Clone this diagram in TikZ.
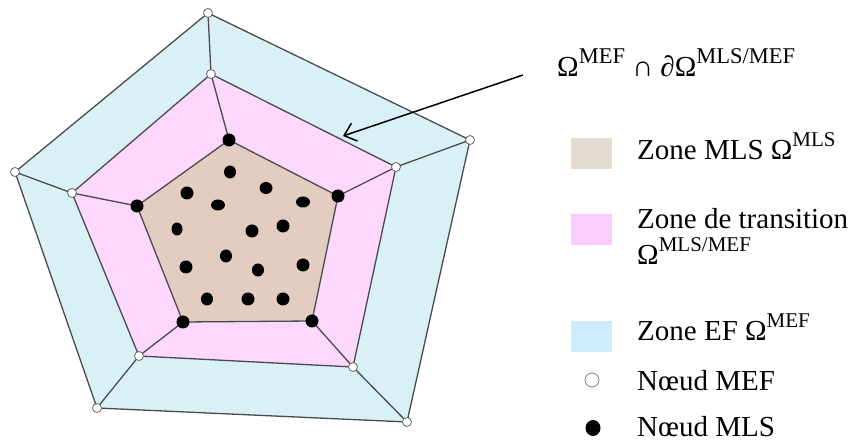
\documentclass[tikz,border=0pt]{standalone}
\usepackage{fontspec}
\setmainfont{Liberation Serif}
\usetikzlibrary{arrows.meta,shapes.geometric}
\definecolor{mlsfill}{RGB}{226,205,192}
\definecolor{transfill}{RGB}{253,215,253}
\definecolor{effill}{RGB}{218,240,247}
\definecolor{legmls}{RGB}{227,218,208}
\definecolor{legtrans}{RGB}{250,204,255}
\definecolor{legef}{RGB}{204,235,253}
\definecolor{edgegray}{RGB}{75,75,75}
\newcommand{\myexp}[1]{\raisebox{0.45em}{\fontsize{21}{21}\selectfont #1}}
\newcommand{\myexpb}[1]{\raisebox{0.45em}{\fontsize{22.5}{22}\selectfont #1}}
\begin{document}
\begin{tikzpicture}[x=1pt,y=-1pt,
  edge/.style={draw=edgegray,line width=1.3pt},
  wnode/.style={circle,draw=gray!80!black,fill=white,line width=0.8pt,minimum size=9pt,inner sep=0pt},
  bnode/.style={circle,fill=black,minimum size=13pt,inner sep=0pt},
  bdot/.style={ellipse,fill=black,inner sep=0pt},
  legbox/.style={rectangle,minimum width=41pt,minimum height=31pt,inner sep=0pt},
  legtxt/.style={anchor=base west,inner sep=0pt,font=\fontsize{29}{34}\selectfont},
  arrowline/.style={draw=black,line width=1.5pt,-{Straight Barb[length=11pt,width=19pt,line width=1.5pt]}}
]
\useasboundingbox[fill=white] (0,0) rectangle (855,443);
% vertices
\coordinate (O1) at (208,13);  \coordinate (O2) at (470,140); \coordinate (O3) at (407,422);
\coordinate (O4) at (97,408);  \coordinate (O5) at (15,172);
\coordinate (M1) at (211,74);  \coordinate (M2) at (396,167); \coordinate (M3) at (353,367);
\coordinate (M4) at (139,356); \coordinate (M5) at (72,193);
\coordinate (I1) at (229,140); \coordinate (I2) at (338,196); \coordinate (I3) at (312,321);
\coordinate (I4) at (183,322); \coordinate (I5) at (137,206);
% fills
\fill[effill] (O1) -- (O2) -- (O3) -- (O4) -- (O5) -- cycle;
\fill[transfill] (M1) -- (M2) -- (M3) -- (M4) -- (M5) -- cycle;
\fill[mlsfill] (I1) -- (I2) -- (I3) -- (I4) -- (I5) -- cycle;
% edges
\foreach \p in {O,M,I} {
  \draw[edge] (\p1) -- (\p2) -- (\p3) -- (\p4) -- (\p5) -- cycle;
}
\foreach \k in {1,...,5} {
  \draw[edge] (O\k) -- (M\k) -- (I\k);
}
% nodes on vertices
\foreach \k in {1,...,5} {
  \node[wnode] (nO\k) at (O\k) {};
  \node[wnode] (nM\k) at (M\k) {};
  \node[bnode] (nI\k) at (I\k) {};
}
% interior MLS nodes
\node[bdot,minimum width=12pt,minimum height=13pt] (d1) at (230,172) {};
\node[bdot,minimum width=13pt,minimum height=12pt] (d2) at (266,188) {};
\node[bdot,minimum width=13pt,minimum height=13pt] (d3) at (187,193) {};
\node[bdot,minimum width=14pt,minimum height=11pt] (d4) at (218,205) {};
\node[bdot,minimum width=14pt,minimum height=11pt] (d5) at (303,202) {};
\node[bdot,minimum width=11pt,minimum height=13pt] (d6) at (177,229) {};
\node[bdot,minimum width=13pt,minimum height=13pt] (d7) at (252,231) {};
\node[bdot,minimum width=13pt,minimum height=13pt] (d8) at (283,226) {};
\node[bdot,minimum width=12pt,minimum height=13pt] (d9) at (226,256) {};
\node[bdot,minimum width=13pt,minimum height=13pt] (d10) at (186,267) {};
\node[bdot,minimum width=12pt,minimum height=13pt] (d11) at (258,270) {};
\node[bdot,minimum width=13pt,minimum height=13pt] (d12) at (303,265) {};
\node[bdot,minimum width=12pt,minimum height=13pt] (d13) at (207,299) {};
\node[bdot,minimum width=13pt,minimum height=13pt] (d14) at (248,299) {};
\node[bdot,minimum width=13pt,minimum height=13pt] (d15) at (283,299) {};
% arrow and label
\coordinate (a0) at (523,75);
\coordinate (a1) at (343,136);
\draw[arrowline] (a0) -- (a1);
\node[legtxt] (form) at (557,77) {Ω\myexpb{MEF} ∩ ∂Ω\myexpb{MLS/MEF}};
% legend
\node[legbox,fill=legmls] (lb1) at (591.5,153.5) {};
\node[legtxt] (lt1) at (637,160) {Zone MLS Ω\myexp{MLS}};
\node[legbox,fill=legtrans] (lb2) at (591.5,230) {};
\node[legtxt] (lt2) at (637,229) {Zone de transition};
\node[legtxt] (lt2b) at (637,265) {Ω\myexp{MLS/MEF}};
\node[legbox,fill=legef] (lb3) at (591.5,337) {};
\node[legtxt] (lt3) at (637,341) {Zone EF Ω\myexp{MEF}};
\node[circle,draw=gray,fill=white,line width=0.8pt,minimum size=14pt,inner sep=0pt] (lw) at (592,380) {};
\node[legtxt] (lt4) at (637,391) {Nœud MEF};
\node[bdot,minimum width=15pt,minimum height=16pt] (lk) at (593,428) {};
\node[legtxt] (lt5) at (637,437) {Nœud MLS};
\end{tikzpicture}
\end{document}
